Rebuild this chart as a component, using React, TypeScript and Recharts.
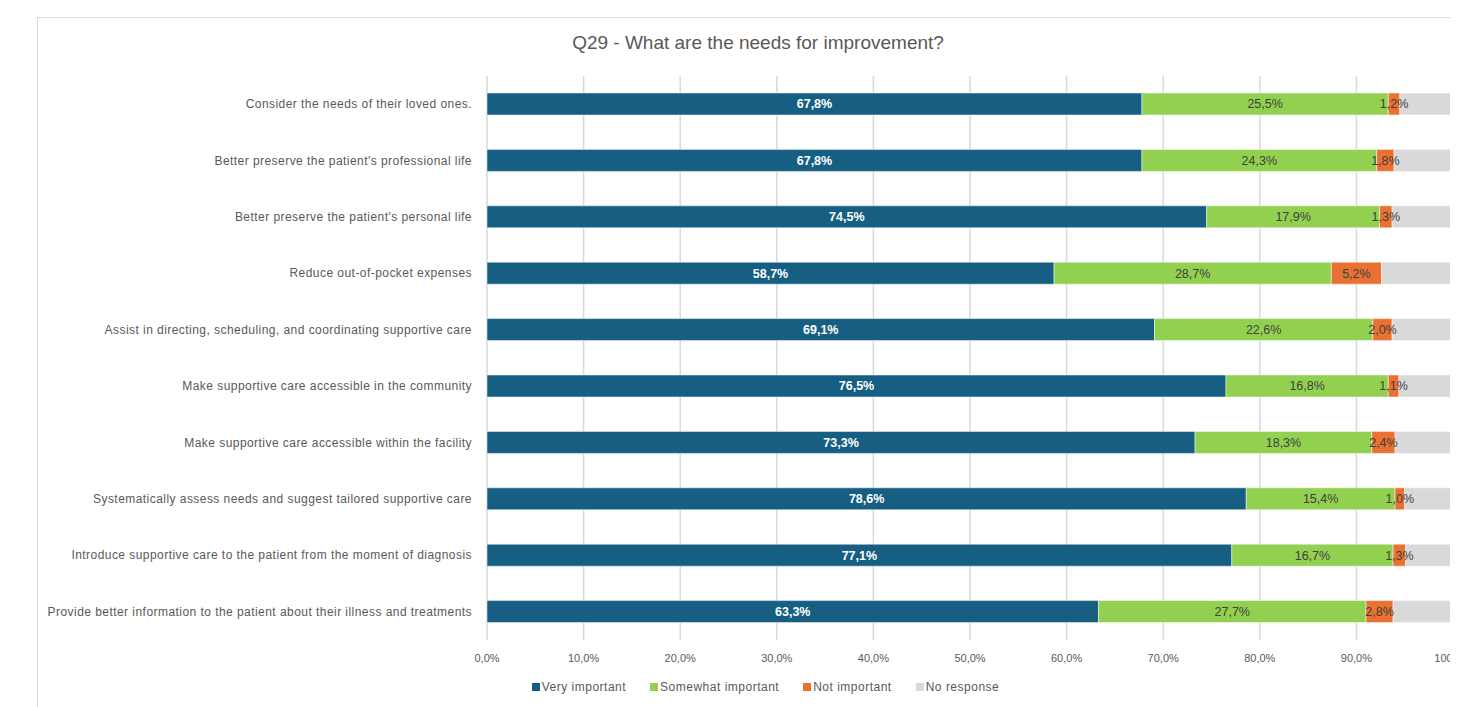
import { BarChart, Bar, XAxis, YAxis, CartesianGrid, Legend, LabelList } from 'recharts';

const categories = [
  'Consider the needs of their loved ones.',
  "Better preserve the patient's professional life",
  "Better preserve the patient's personal life",
  'Reduce out-of-pocket expenses',
  'Assist in directing, scheduling, and coordinating supportive care',
  'Make supportive care accessible in the community',
  'Make supportive care accessible within the facility',
  'Systematically assess needs and suggest tailored supportive care',
  'Introduce supportive care to the patient from the moment of diagnosis',
  'Provide better information to the patient about their illness and treatments',
];

const veryImportant = [67.8, 67.8, 74.5, 58.7, 69.1, 76.5, 73.3, 78.6, 77.1, 63.3];
const somewhatImportant = [25.5, 24.3, 17.9, 28.7, 22.6, 16.8, 18.3, 15.4, 16.7, 27.7];
const notImportant = [1.2, 1.8, 1.3, 5.2, 2.0, 1.1, 2.4, 1.0, 1.3, 2.8];
const noResponse = [5.5, 6.1, 6.3, 7.4, 6.3, 5.6, 6.0, 5.0, 4.9, 6.2];

const xTicks = [0, 10, 20, 30, 40, 50, 60, 70, 80, 90, 100];

const seriesNames = ['Very important', 'Somewhat important', 'Not important', 'No response'];
const seriesColors = ['#165F82', '#92D050', '#E97132', '#D9D9D9'];

const data = categories.map((name, i) => ({
  name,
  'Very important': veryImportant[i],
  'Somewhat important': somewhatImportant[i],
  'Not important': notImportant[i],
  'No response': noResponse[i],
}));

const pct = (v: any) => `${Number(v).toFixed(1).replace('.', ',')}%`;

const FONT = '"Liberation Sans", Arial, sans-serif';

function CategoryTick(props: any) {
  const { x, y, payload } = props;
  return (
    <text
      x={x - 7}
      y={y}
      dy={4}
      textAnchor="end"
      fontSize={12}
      letterSpacing={0.45}
      fill="#595959"
      fontFamily={FONT}
    >
      {payload.value}
    </text>
  );
}

function LegendContent() {
  return (
    <div
      style={{
        display: 'flex',
        justifyContent: 'center',
        fontSize: 12,
        letterSpacing: 0.5,
        color: '#595959',
        fontFamily: FONT,
        paddingLeft: 64,
      }}
    >
      {seriesNames.map((n, i) => (
        <div key={n} style={{ display: 'flex', alignItems: 'center', marginRight: 24 }}>
          <span
            style={{ width: 8, height: 8, background: seriesColors[i], display: 'inline-block', marginRight: 2 }}
          />
          <span>{n}</span>
        </div>
      ))}
    </div>
  );
}

export default function App() {
  return (
    <div
      style={{
        marginLeft: 29,
        marginTop: 9,
        width: 1420,
        height: 690,
        borderLeft: '1px solid #d9d9d9',
        borderTop: '1px solid #d9d9d9',
        overflow: 'hidden',
        position: 'relative',
        fontFamily: FONT,
      }}
    >
      <div
        style={{
          position: 'absolute',
          left: 0,
          top: 14,
          width: 1440,
          textAlign: 'center',
          fontSize: 19,
          color: '#595959',
        }}
      >
        Q29 - What are the needs for improvement?
      </div>
      <BarChart
        width={1440}
        height={690}
        data={data}
        layout="vertical"
        margin={{ top: 58, right: 25, bottom: 14, left: 0 }}
        barSize={22}
      >
        <CartesianGrid horizontal={false} stroke="#d9d9d9" strokeWidth={1.5} />
        <XAxis
          type="number"
          domain={[0, 100]}
          ticks={xTicks}
          tickFormatter={pct}
          axisLine={false}
          tickLine={false}
          tick={{ fontSize: 11, fill: '#595959', fontFamily: FONT }}
          tickMargin={8}
          height={40}
        />
        <YAxis
          type="category"
          dataKey="name"
          width={449}
          axisLine={false}
          tickLine={false}
          tick={<CategoryTick />}
        />
        <Legend verticalAlign="bottom" content={<LegendContent />} />
        <Bar dataKey="Very important" stackId="a" fill={seriesColors[0]} stroke="#ffffff" strokeWidth={0.5} isAnimationActive={false}>
          <LabelList
            dataKey="Very important"
            position="center"
            formatter={pct}
            fill="#ffffff"
            style={{ fontSize: 12.5, fontWeight: 'bold', fontFamily: FONT }}
          />
        </Bar>
        <Bar dataKey="Somewhat important" stackId="a" fill={seriesColors[1]} stroke="#ffffff" strokeWidth={0.5} isAnimationActive={false}>
          <LabelList
            dataKey="Somewhat important"
            position="center"
            formatter={pct}
            fill="#404040"
            style={{ fontSize: 12.5, fontFamily: FONT }}
          />
        </Bar>
        <Bar dataKey="Not important" stackId="a" fill={seriesColors[2]} stroke="#ffffff" strokeWidth={0.5} isAnimationActive={false}>
          <LabelList
            dataKey="Not important"
            position="center"
            formatter={pct}
            fill="#404040"
            style={{ fontSize: 12.5, fontFamily: FONT }}
          />
        </Bar>
        <Bar dataKey="No response" stackId="a" fill={seriesColors[3]} stroke="#ffffff" strokeWidth={0.5} isAnimationActive={false} />
      </BarChart>
    </div>
  );
}
